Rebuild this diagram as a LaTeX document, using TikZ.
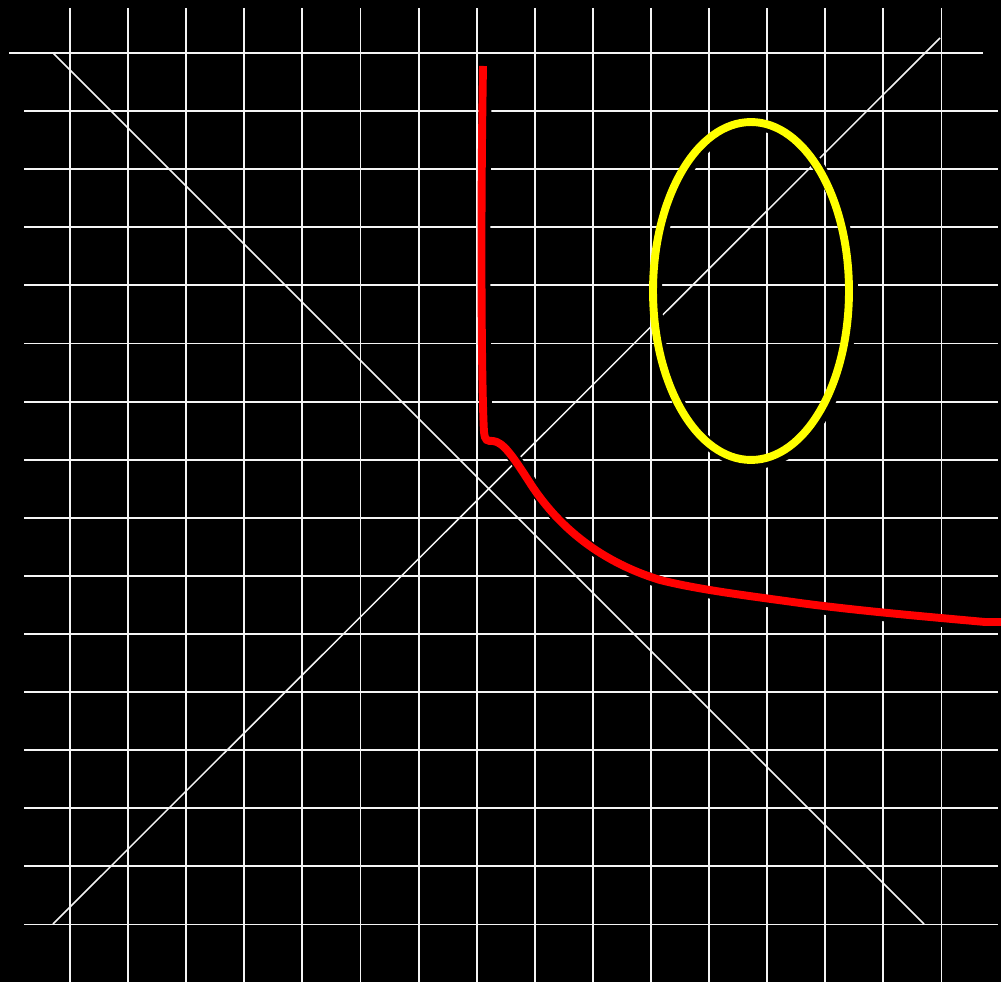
\documentclass[tikz,border=0pt]{standalone}
\usepackage{xcolor}
\usepackage{tikz}
\usetikzlibrary{calc}
\definecolor{inkblack}{HTML}{000000}
\definecolor{gridwhite}{HTML}{F4F4F4}
\definecolor{signalred}{HTML}{FF0000}
\definecolor{ringyellow}{HTML}{FFFF00}

\tikzset{
    gridline/.style={draw=gridwhite, line width=1.1pt},
    diagline/.style={draw=gridwhite, line width=0.85pt},
    halo/.style={draw=inkblack, line width=6.8pt,
        transform canvas={xshift=0.06cm, yshift=-0.06cm}},
    redcurve/.style={draw=signalred, line width=4.5pt, preaction={halo}},
    yellowring/.style={draw=ringyellow, line width=4.5pt, preaction={halo}}
}

\begin{document}
\begin{tikzpicture}[x=0.02cm, y=-0.02cm]

    % =================================================================
    % LAYER 0: THE BLACK CANVAS
    % =================================================================
    \useasboundingbox (0,0) rectangle (1001,982);
    \fill[inkblack] (0,0) rectangle (1001,982);

    % =================================================================
    % LAYER 1: THE GRID
    % =================================================================
    \foreach \i [evaluate=\i as \gx using 70+58.1*\i] in {0,...,15}
        \draw[gridline] (\gx,8) -- (\gx,982);

    \draw[gridline] (9,53) -- (983,53);
    \foreach \j [evaluate=\j as \gy using 53+58.1*\j] in {1,...,15}
        \draw[gridline] (24,\gy) -- (998,\gy);

    % =================================================================
    % LAYER 2: THE TWO DIAGONALS
    % =================================================================
    \coordinate (diagA) at (53,53);
    \coordinate (diagB) at (924,924);
    \coordinate (diagC) at (53,924);
    \coordinate (diagD) at (940,38);
    \draw[diagline] (diagA) -- (diagB);
    \draw[diagline] (diagC) -- (diagD);

    % =================================================================
    % LAYER 3: THE YELLOW RING
    % =================================================================
    \coordinate (ringcentre) at (751,291);
    \draw[yellowring] (ringcentre) ellipse [x radius=1.96cm, y radius=3.38cm];

    % =================================================================
    % LAYER 4: THE RED CURVE
    % =================================================================
    \draw[redcurve] (483,66)
        .. controls (480,250) and (482,400) .. (484,432)
        .. controls (485,441) and (487,441) .. (493,441)
        .. controls (503,442) and (512,455) .. (530,483)
        .. controls (555,522) and (595,560) .. (660,580)
        .. controls (700,590) and (750,596) .. (800,603)
        .. controls (860,611) and (930,617) .. (985,622)
        -- (1010,622);

\end{tikzpicture}
\end{document}
